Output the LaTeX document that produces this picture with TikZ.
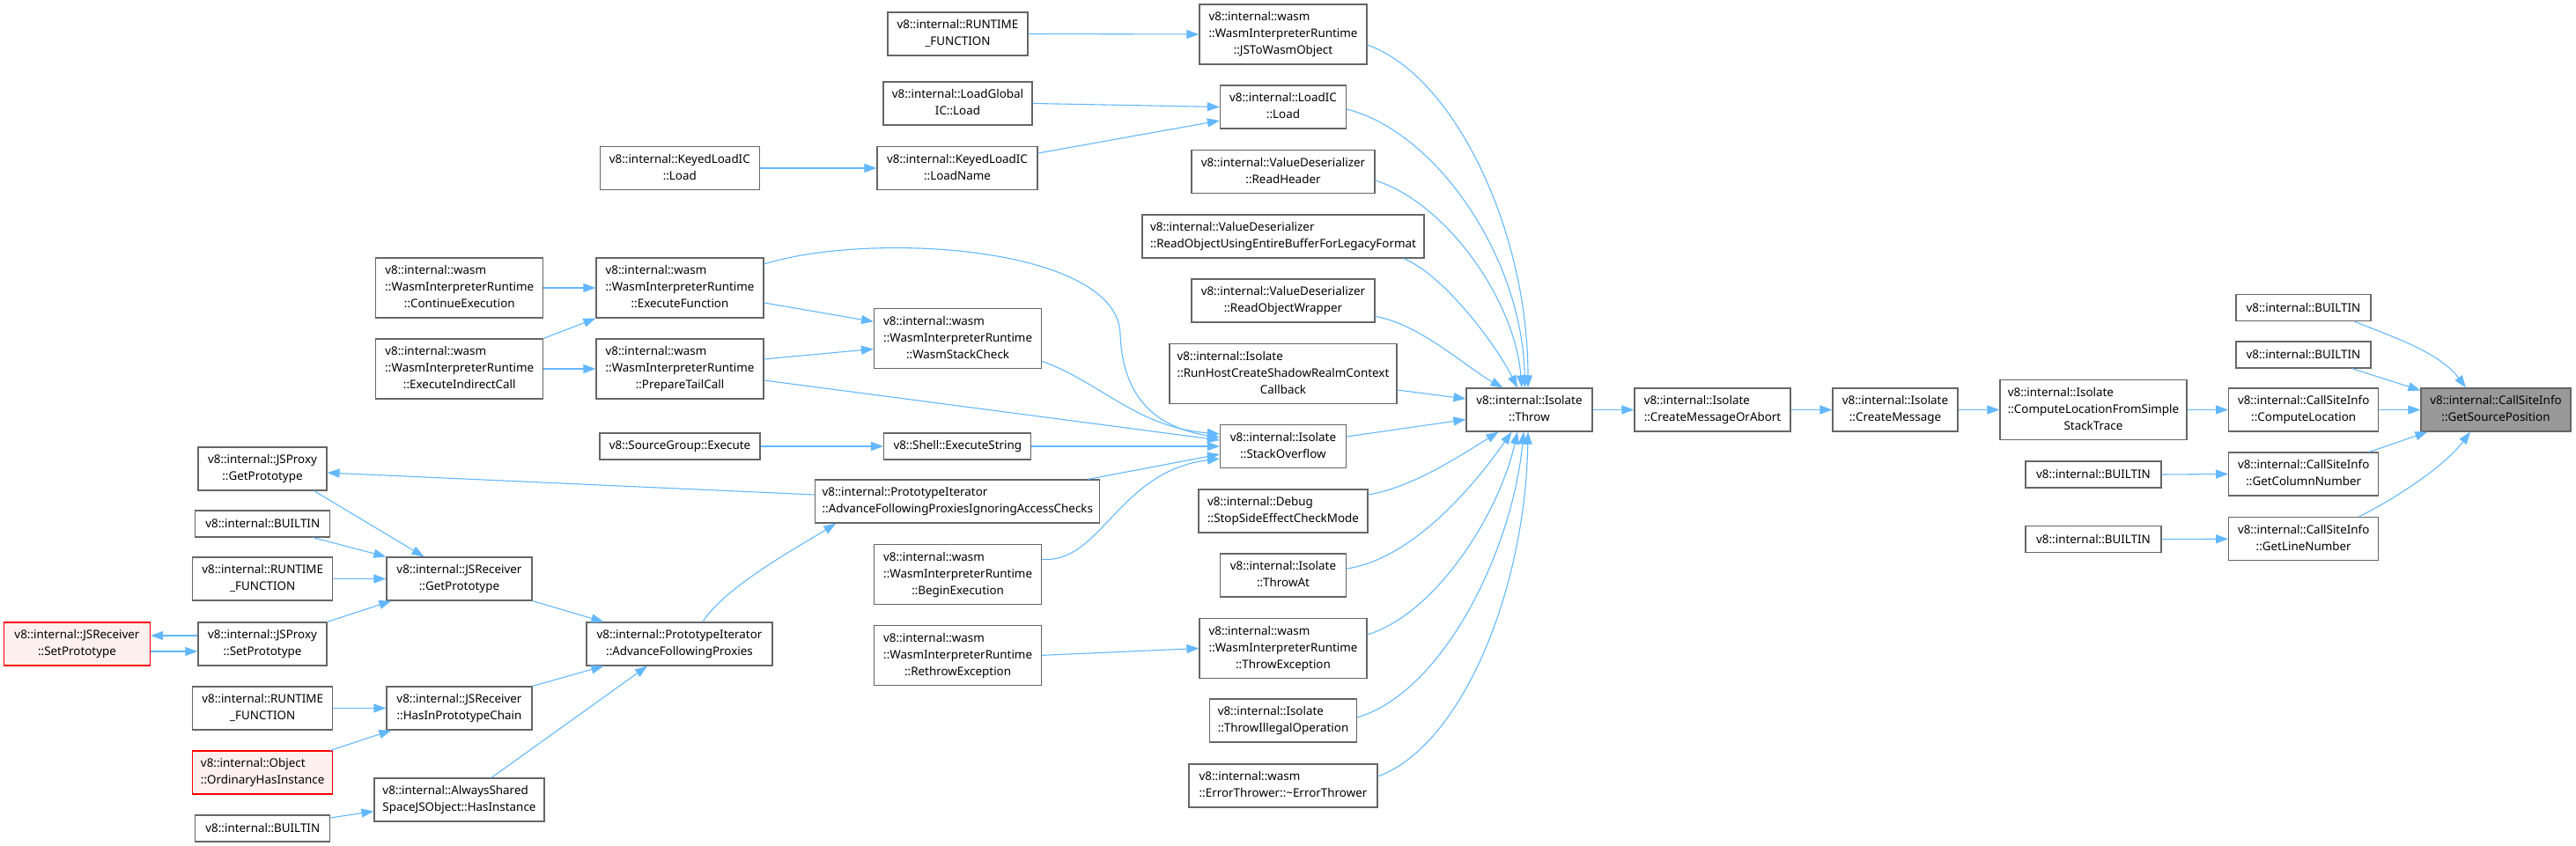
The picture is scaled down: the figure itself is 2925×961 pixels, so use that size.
\documentclass[tikz,border=0pt]{standalone}
\usepackage{fontspec}
\setmainfont{Noto Sans}
\usepackage{xcolor}
\usetikzlibrary{arrows.meta,calc}

\definecolor{edgeblue}{HTML}{63B8FF}
\definecolor{boxgray}{HTML}{666666}
\definecolor{rootgray}{HTML}{999999}
\definecolor{hotfill}{HTML}{FFF0F0}

% two and three line labels: upper lines left, last line centred
\newcommand{\twol}[2]{\begin{tabular}{@{}l@{}}#1\\\multicolumn{1}{@{}c@{}}{#2}\end{tabular}}
\newcommand{\threel}[3]{\begin{tabular}{@{}l@{}}#1\\#2\\\multicolumn{1}{@{}c@{}}{#3}\end{tabular}}

\begin{document}
\begin{tikzpicture}[
  x=0.5pt,y=-0.5pt,
  fn/.style={draw=boxgray,fill=white,line width=0.6pt,inner sep=0pt,
             font=\fontsize{6.7}{9.5}\selectfont},
  one/.style={fn,minimum height=15pt},
  two/.style={fn,minimum height=24.5pt},
  three/.style={fn,minimum height=34pt},
  hot/.style={draw=red,fill=hotfill},
  root/.style={fill=rootgray},
  arr/.style={-{Triangle[length=7pt,width=5pt]},draw=edgeblue,line width=0.55pt}]

  \useasboundingbox (0,0) rectangle (2925,961);

  % target and its direct callers
  \node[two,root,minimum width=85pt] (gsp)   at (2834,465.5)   {\twol{v8::internal::CallSiteInfo}{::GetSourcePosition}};
  \node[one,minimum width=76.5pt]    (bi1)   at (2615.5,349.7) {v8::internal::BUILTIN};
  \node[one,minimum width=76.5pt]    (bi2)   at (2615.5,403)   {v8::internal::BUILTIN};
  \node[two,minimum width=85pt]      (cloc)  at (2615.7,465.5) {\twol{v8::internal::CallSiteInfo}{::ComputeLocation}};
  \node[two,minimum width=85pt]      (gcol)  at (2615.7,538.5) {\twol{v8::internal::CallSiteInfo}{::GetColumnNumber}};
  \node[two,minimum width=85pt]      (gline) at (2615.7,612.2) {\twol{v8::internal::CallSiteInfo}{::GetLineNumber}};
  \node[one,minimum width=77pt]      (bicol) at (2377,539)     {v8::internal::BUILTIN};
  \node[one,minimum width=77pt]      (biline) at (2377,612.5)  {v8::internal::BUILTIN};
  \node[three,minimum width=106pt]   (clfsst) at (2377,465.5)  {\threel{v8::internal::Isolate}{::ComputeLocationFromSimple}{StackTrace}};
  \node[two,minimum width=71pt]      (cmsg)  at (2152,465.5)   {\twol{v8::internal::Isolate}{::CreateMessage}};
  \node[two,minimum width=88.5pt]    (cmoa)  at (1944.5,465.5) {\twol{v8::internal::Isolate}{::CreateMessageOrAbort}};
  \node[two,minimum width=71.5pt]    (thr)   at (1736.5,465.5) {\twol{v8::internal::Isolate}{::Throw}};

  % callers of Throw
  \node[three,minimum width=95pt]  (jstw)    at (1457,39)    {\threel{v8::internal::wasm}{::WasmInterpreterRuntime}{::JSToWasmObject}};
  \node[two,minimum width=71.5pt]  (loadic)  at (1457,121.5) {\twol{v8::internal::LoadIC}{::Load}};
  \node[two,minimum width=104pt]   (rhdr)    at (1457,195)   {\twol{v8::internal::ValueDeserializer}{::ReadHeader}};
  \node[two,minimum width=160pt]   (robj)    at (1457,268.5) {\twol{v8::internal::ValueDeserializer}{::ReadObjectUsingEntireBufferForLegacyFormat}};
  \node[two,minimum width=104pt]   (rwrap)   at (1457,341.5) {\twol{v8::internal::ValueDeserializer}{::ReadObjectWrapper}};
  \node[three,minimum width=129pt] (runhost) at (1457,424.5) {\threel{v8::internal::Isolate}{::RunHostCreateShadowRealmContext}{Callback}};
  \node[two,minimum width=71.5pt]  (so)      at (1457,507)   {\twol{v8::internal::Isolate}{::StackOverflow}};
  \node[two,minimum width=96pt]    (ssecm)   at (1457,580.5) {\twol{v8::internal::Debug}{::StopSideEffectCheckMode}};
  \node[two,minimum width=71.5pt]  (thrat)   at (1457,653.5) {\twol{v8::internal::Isolate}{::ThrowAt}};
  \node[three,minimum width=95pt]  (threx)   at (1457,736.5) {\threel{v8::internal::wasm}{::WasmInterpreterRuntime}{::ThrowException}};
  \node[two,minimum width=83.5pt]  (thrill)  at (1457,818.5) {\twol{v8::internal::Isolate}{::ThrowIllegalOperation}};
  \node[two,minimum width=107pt]   (erth)    at (1457,892.5) {\twol{v8::internal::wasm}{::ErrorThrower::\textasciitilde ErrorThrower}};

  % third column
  \node[two,minimum width=79.5pt]  (rtf1)    at (1087.5,38.5)  {\twol{v8::internal::RUNTIME}{\_FUNCTION}};
  \node[two,minimum width=84.5pt]  (lgic)    at (1087.5,117.5) {\twol{v8::internal::LoadGlobal}{IC::Load}};
  \node[two,minimum width=91pt]    (kln)     at (1087,191)     {\twol{v8::internal::KeyedLoadIC}{::LoadName}};
  \node[three,minimum width=95pt]  (wsc)     at (1087.6,384.4) {\threel{v8::internal::wasm}{::WasmInterpreterRuntime}{::WasmStackCheck}};
  \node[one,minimum width=83.5pt]  (shell)   at (1087.3,507)   {v8::Shell::ExecuteString};
  \node[two,minimum width=161.5pt] (afpiac)  at (1087.3,569.5) {\twol{v8::internal::PrototypeIterator}{::AdvanceFollowingProxiesIgnoringAccessChecks}};
  \node[three,minimum width=95pt]  (begex)   at (1087.6,652.4) {\threel{v8::internal::wasm}{::WasmInterpreterRuntime}{::BeginExecution}};
  \node[three,minimum width=95pt]  (rethrow) at (1087.6,744.4) {\threel{v8::internal::wasm}{::WasmInterpreterRuntime}{::RethrowException}};

  % fourth column
  \node[two,minimum width=90.5pt]  (kl)      at (771.8,191)   {\twol{v8::internal::KeyedLoadIC}{::Load}};
  \node[three,minimum width=95pt]  (exfn)    at (772,327)     {\threel{v8::internal::wasm}{::WasmInterpreterRuntime}{::ExecuteFunction}};
  \node[three,minimum width=95pt]  (ptc)     at (772,419)     {\threel{v8::internal::wasm}{::WasmInterpreterRuntime}{::PrepareTailCall}};
  \node[one,minimum width=91pt]    (sge)     at (772,507)     {v8::SourceGroup::Execute};
  \node[two,minimum width=105.5pt] (afp)     at (771.5,731.5) {\twol{v8::internal::PrototypeIterator}{::AdvanceFollowingProxies}};

  % fifth column
  \node[three,minimum width=95pt]  (contex)  at (521.8,327)   {\threel{v8::internal::wasm}{::WasmInterpreterRuntime}{::ContinueExecution}};
  \node[three,minimum width=95pt]  (exind)   at (521.8,419)   {\threel{v8::internal::wasm}{::WasmInterpreterRuntime}{::ExecuteIndirectCall}};
  \node[two,minimum width=82.5pt]  (jrgp)    at (521.5,657.5) {\twol{v8::internal::JSReceiver}{::GetPrototype}};
  \node[two,minimum width=82.5pt]  (hipc)    at (521.5,804.5) {\twol{v8::internal::JSReceiver}{::HasInPrototypeChain}};
  \node[two,minimum width=96.5pt]  (ashi)    at (521.5,908.5) {\twol{v8::internal::AlwaysShared}{SpaceJSObject::HasInstance}};

  % sixth and seventh column
  \node[two,minimum width=73pt]     (jpgp)   at (298,532.5)   {\twol{v8::internal::JSProxy}{::GetPrototype}};
  \node[one,minimum width=76.5pt]   (bi3)    at (298.3,595)   {v8::internal::BUILTIN};
  \node[two,minimum width=79.5pt]   (rtf2)   at (298.2,657.5) {\twol{v8::internal::RUNTIME}{\_FUNCTION}};
  \node[two,minimum width=73pt]     (jpsp)   at (298,731.5)   {\twol{v8::internal::JSProxy}{::SetPrototype}};
  \node[two,minimum width=79.5pt]   (rtf3)   at (298.2,804.5) {\twol{v8::internal::RUNTIME}{\_FUNCTION}};
  \node[two,hot,minimum width=79.5pt] (ohi)  at (298.2,877.5) {\twol{v8::internal::Object}{::OrdinaryHasInstance}};
  \node[one,minimum width=76.5pt]   (bi4)    at (298.3,941)   {v8::internal::BUILTIN};
  \node[two,hot,minimum width=83pt] (jrsp)   at (87.5,731.5)  {\twol{v8::internal::JSReceiver}{::SetPrototype}};

  % into GetSourcePosition
  \draw[arr] ($(bi1.south east)+(-19,0)$) .. controls +(45,18) and +(-30,-40) .. ($(gsp.north)+(-34,0)$);
  \draw[arr] ($(bi2.south east)+(-22,0)$) -- ($(gsp.west)+(0,-22)$);
  \draw[arr] (cloc.east) -- (gsp.west);
  \draw[arr] ($(gcol.north east)+(-11,0)$) -- ($(gsp.south west)+(8,0)$);
  \draw[arr] ($(gline.north east)+(-23,0)$) .. controls +(40,-20) and +(-30,40) .. ($(gsp.south)+(-29,0)$);
  \draw[arr] (bicol.east) -- (gcol.west);
  \draw[arr] (biline.east) -- (gline.west);

  % Throw chain
  \draw[arr] (clfsst.east) -- (cloc.west);
  \draw[arr] (cmsg.east) -- (clfsst.west);
  \draw[arr] (cmoa.east) -- (cmsg.west);
  \draw[arr] (thr.east) -- (cmoa.west);

  % into Throw
  \draw[arr] ($(jstw.east)+(0,12)$) .. controls +(97,34) and +(0,-181) .. ($(thr.north)+(-1.5,0)$);
  \draw[arr] ($(loadic.east)+(0,2.5)$) .. controls +(100,25) and +(-3,-150) .. ($(thr.north)+(-5,0)$);
  \draw[arr] ($(rhdr.east)+(0,10)$) .. controls +(80,25) and +(-8,-100) .. ($(thr.north)+(-8.5,0)$);
  \draw[arr] ($(robj.south east)+(-24,0)$) .. controls +(45,18) and +(-25,-50) .. ($(thr.north)+(-13.5,0)$);
  \draw[arr] ($(rwrap.east)+(0,18)$) .. controls +(50,8) and +(-40,-22) .. ($(thr.north)+(-30,0)$);
  \draw[arr] ($(runhost.east)+(0,18.5)$) -- ($(thr.west)+(0,-12.5)$);
  \draw[arr] ($(so.east)+(0,-11)$) -- ($(thr.west)+(0,11)$);
  \draw[arr] ($(ssecm.east)+(0,-18.5)$) .. controls +(50,-8) and +(-40,25) .. ($(thr.south)+(-35,0)$);
  \draw[arr] ($(thrat.east)+(0,-7.5)$) .. controls +(80,-12) and +(-35,50) .. ($(thr.south)+(-20,0)$);
  \draw[arr] ($(threx.east)+(0,-15.5)$) .. controls +(80,-25) and +(-20,90) .. ($(thr.south)+(-13.5,0)$);
  \draw[arr] ($(thrill.east)+(0,-3.5)$) .. controls +(100,-30) and +(-12,130) .. ($(thr.south)+(-6.5,0)$);
  \draw[arr] ($(erth.east)+(0,-10.5)$) .. controls +(95,-35) and +(-3,180) .. ($(thr.south)+(-1.5,0)$);

  % into StackOverflow
  \draw[arr] ($(exfn.east)+(0,-27)$) .. controls (990,262) and (1270,280) .. (1272,380)
             .. controls (1275,450) and (1310,485) .. ($(so.west)+(0,-10)$);
  \draw[arr] ($(wsc.east)+(0,26)$) .. controls +(67,24) and +(-95,-8) .. ($(so.west)+(0,-14)$);
  \draw[arr] ($(ptc.east)+(0,13)$) -- ($(so.west)+(0,-7)$);
  \draw[arr] (shell.east) -- (so.west);
  \draw[arr] ($(afpiac.north east)+(-14,0)$) -- ($(so.west)+(0,9)$);
  \draw[arr] ($(begex.east)+(0,-17)$) .. controls +(67,5) and +(-115,14) .. ($(so.west)+(0,14)$);

  % loads and wasm runtime
  \draw[arr] (rtf1.east) -- (jstw.west);
  \draw[arr] (lgic.east) -- (loadic.west);
  \draw[arr] ($(kln.east)+(0,-17)$) -- ($(loadic.west)+(0,15.5)$);
  \draw[arr] (kl.east) -- (kln.west);
  \draw[arr] (contex.east) -- (exfn.west);
  \draw[arr] (exind.north east) -- (exfn.south west);
  \draw[arr] (exind.east) -- (ptc.west);
  \draw[arr] ($(exfn.east)+(0,17)$) -- ($(wsc.west)+(0,-19)$);
  \draw[arr] ($(ptc.east)+(0,-11)$) -- ($(wsc.west)+(0,12)$);
  \draw[arr] (sge.east) -- (shell.west);
  \draw[arr] (rethrow.east) -- (threx.west);

  % prototype chain
  \draw[arr] ($(afpiac.west)+(0,-7.5)$) -- ($(jpgp.east)+(0,4.5)$);
  \draw[arr] ($(jpgp.south east)+(-15,0)$) -- ($(jrgp.north)+(-40,0)$);
  \draw[arr] ($(bi3.south east)+(-20,0)$) -- (jrgp.north west);
  \draw[arr] (rtf2.east) -- (jrgp.west);
  \draw[arr] (jpsp.north east) -- ($(jrgp.south west)+(6,0)$);
  \draw[arr] ($(jpsp.west)+(0,-9.5)$) -- ($(jrsp.east)+(0,-9.5)$);
  \draw[arr] ($(jrsp.east)+(0,8.5)$) -- ($(jpsp.west)+(0,8.5)$);
  \draw[arr] (jrgp.south east) -- ($(afp.north west)+(20,0)$);
  \draw[arr] (hipc.north east) -- ($(afp.south west)+(20,0)$);
  \draw[arr] ($(ashi.north)+(36.5,0)$) -- ($(afp.south)+(-36.5,0)$);
  \draw[arr] (rtf3.east) -- (hipc.west);
  \draw[arr] ($(ohi.north east)+(-3,0)$) -- ($(hipc.south west)+(6,0)$);
  \draw[arr] ($(bi4.east)+(0,-12)$) -- ($(ashi.west)+(0,13)$);
  \draw[arr] ($(afp.north)+(26.5,0)$) .. controls +(25,-40) and +(-40,25) .. ($(afpiac.south west)+(24,0)$);
\end{tikzpicture}
\end{document}
